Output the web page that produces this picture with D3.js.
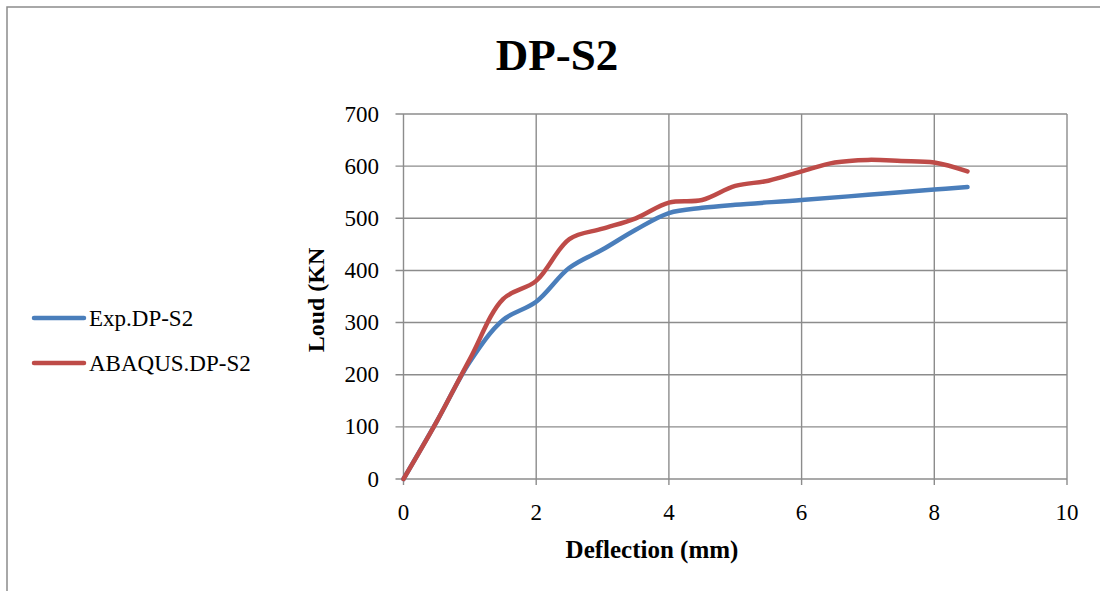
<!DOCTYPE html>
<html>
<head>
<meta charset="utf-8">
<script src="https://cdn.jsdelivr.net/npm/d3@7"></script>
<style>
  body { margin: 0; background: #fff; }
  svg text { font-family: "Liberation Serif", "DejaVu Serif", serif; fill: #000; }
</style>
</head>
<body>
<svg id="chart" width="1100" height="591"></svg>
<script>
// values
var xExp = [0, 0.5, 1, 1.5, 2, 2.5, 3, 3.5, 4, 4.5, 5, 6, 7, 8, 8.5];
var yExp = [0, 110, 225, 305, 340, 405, 440, 478, 510, 520, 526, 535, 545, 555, 560];
var xAbq = [0, 0.5, 1, 1.5, 2, 2.5, 3, 3.5, 4, 4.5, 5, 5.5, 6, 6.5, 7, 7.5, 8, 8.5];
var yAbq = [0, 110, 230, 345, 380, 460, 480, 500, 530, 535, 562, 572, 590, 607, 612, 610, 607, 590];
var xTicks = [0, 2, 4, 6, 8, 10];
var yTicks = [0, 100, 200, 300, 400, 500, 600, 700];
var seriesNames = ["Exp.DP-S2", "ABAQUS.DP-S2"];
var seriesColors = ["#4a7ebb", "#be4b48"];

var svg = d3.select("#chart");
var grey = "#8c8c8c";

// outer chart frame (only left + top visible)
svg.append("rect")
  .attr("x", 7).attr("y", 7)
  .attr("width", 1200).attr("height", 700)
  .attr("fill", "none").attr("stroke", grey).attr("stroke-width", 1.5);

var x = d3.scaleLinear().domain([0, 10]).range([403.5, 1067]);
var y = d3.scaleLinear().domain([0, 700]).range([479, 114]);

// gridlines
svg.append("g").selectAll("line").data(yTicks).enter().append("line")
  .attr("x1", x(0) - 8).attr("x2", x(10))
  .attr("y1", function(d) { return y(d); }).attr("y2", function(d) { return y(d); })
  .attr("stroke", grey).attr("stroke-width", 1.4);
svg.append("g").selectAll("line").data(xTicks).enter().append("line")
  .attr("x1", function(d) { return x(d); }).attr("x2", function(d) { return x(d); })
  .attr("y1", y(700)).attr("y2", y(0) + 6)
  .attr("stroke", grey).attr("stroke-width", 1.4);

// tick labels
svg.append("g").selectAll("text").data(yTicks).enter().append("text")
  .attr("x", 379).attr("y", function(d) { return y(d) + 7.5; })
  .attr("text-anchor", "end").style("font-size", "23px")
  .text(function(d) { return d; });
svg.append("g").selectAll("text").data(xTicks).enter().append("text")
  .attr("x", function(d) { return x(d); }).attr("y", 520)
  .attr("text-anchor", "middle").style("font-size", "23px")
  .text(function(d) { return d; });

// series
var line = d3.line()
  .x(function(d) { return x(d[0]); })
  .y(function(d) { return y(d[1]); })
  .curve(d3.curveCatmullRom.alpha(0.5));

var series = [d3.zip(xExp, yExp), d3.zip(xAbq, yAbq)];
svg.append("g").selectAll("path").data(series).enter().append("path")
  .attr("d", line)
  .attr("fill", "none")
  .attr("stroke", function(d, i) { return seriesColors[i]; })
  .attr("stroke-width", 4.5)
  .attr("stroke-linecap", "round")
  .attr("stroke-linejoin", "round");

// titles
svg.append("text").attr("x", 557).attr("y", 70)
  .attr("text-anchor", "middle")
  .style("font-size", "45px").style("font-weight", "bold")
  .text("DP-S2");
svg.append("text").attr("x", 652).attr("y", 558)
  .attr("text-anchor", "middle")
  .style("font-size", "25px").style("font-weight", "bold")
  .text("Deflection (mm)");
svg.append("text")
  .attr("transform", "translate(324,300) rotate(-90)")
  .attr("text-anchor", "middle")
  .style("font-size", "24px").style("font-weight", "bold")
  .text("Loud (KN");

// legend
var legend = svg.append("g").selectAll("g").data(seriesNames).enter().append("g")
  .attr("transform", function(d, i) { return "translate(0," + (318 + i * 45) + ")"; });
legend.append("line")
  .attr("x1", 34).attr("x2", 84).attr("y1", 0).attr("y2", 0)
  .attr("stroke", function(d, i) { return seriesColors[i]; })
  .attr("stroke-width", 4.5).attr("stroke-linecap", "round");
legend.append("text")
  .attr("x", 89).attr("y", 8)
  .style("font-size", "23px")
  .text(function(d) { return d; });
</script>
</body>
</html>
